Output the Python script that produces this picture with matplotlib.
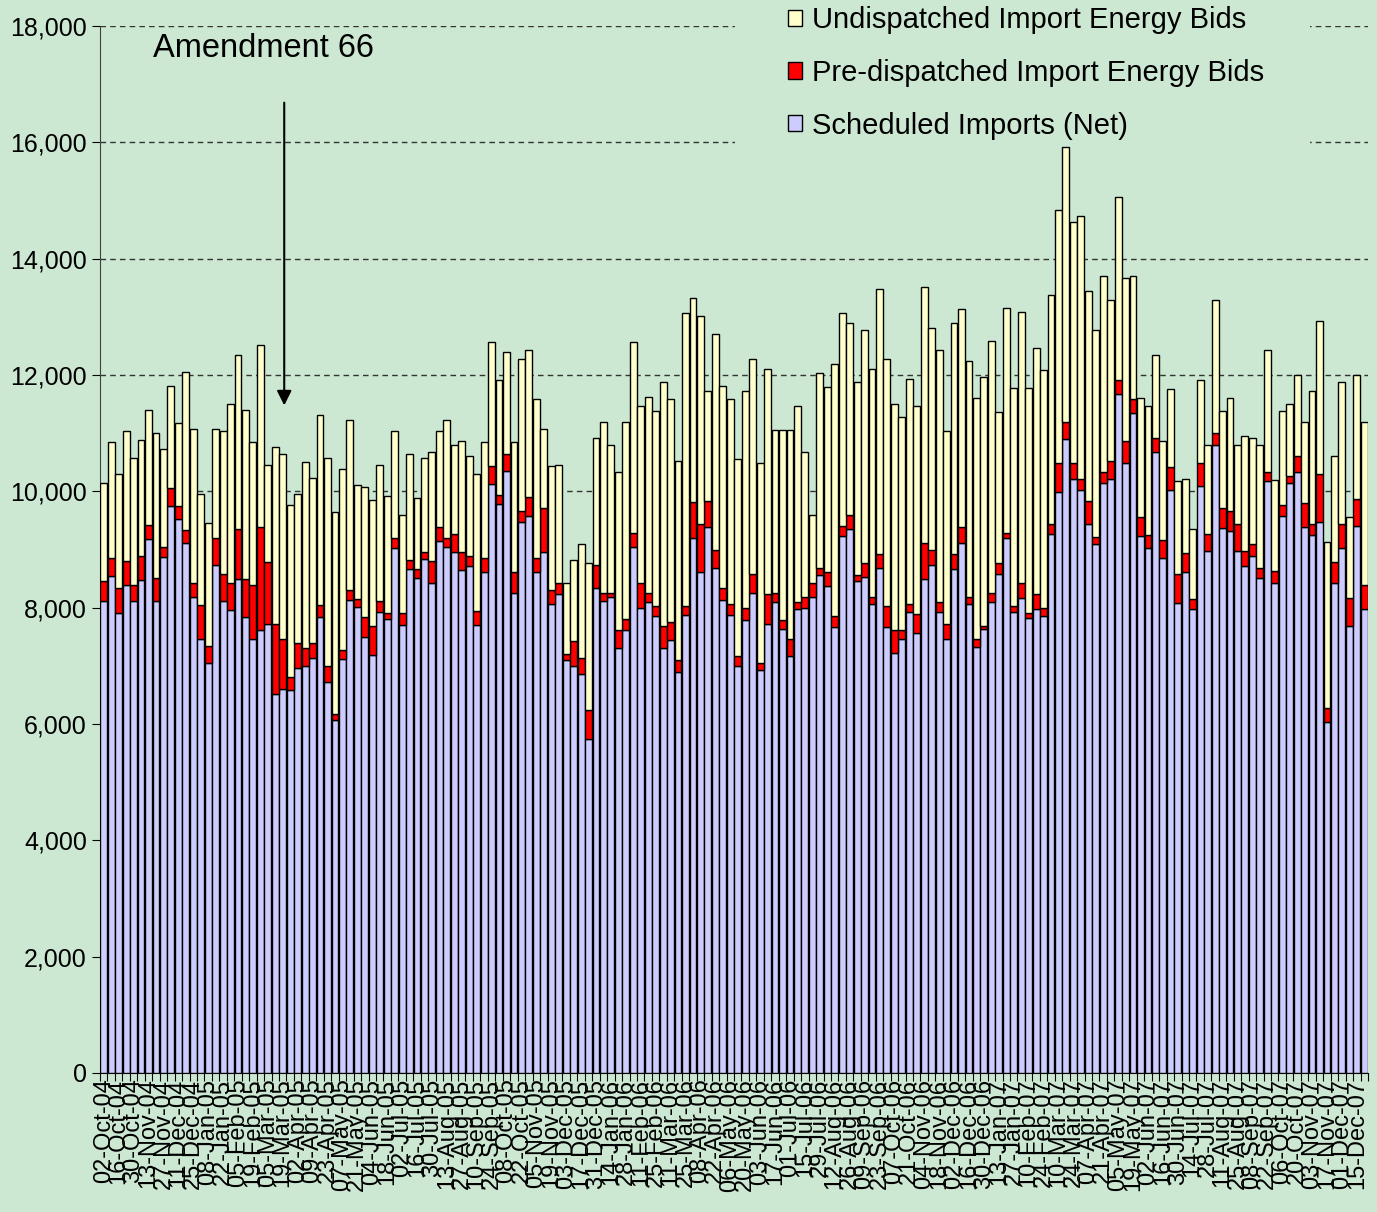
import numpy as np
import pandas as pd
import matplotlib
matplotlib.use("Agg")
import matplotlib.pyplot as plt
from matplotlib.patches import Patch, Rectangle
from matplotlib.ticker import FuncFormatter, FixedLocator

plt.rcParams['font.family'] = ['Liberation Sans', 'DejaVu Sans']

# week labels (one bar per week, the dates jump once in spring 2005)
weeks = list(pd.date_range("2004-10-02", periods=28, freq="7D")) + \
        list(pd.date_range(end="2007-12-22", periods=142, freq="7D"))
week_labels = [d.strftime("%d-%b-%y") for d in weeks]

# MW
scheduled = [8110, 8550, 7900, 8390, 8120, 8480, 9180, 8120, 8870, 9740,
             9530, 9120, 8190, 7460, 7050, 8740, 8110, 7960, 8500, 7840,
             7460, 7610, 7720, 6510, 6610, 6580, 6960, 6990, 7140, 7840,
             6720, 6070, 7110, 8140, 8010, 7500, 7190, 7930, 7800, 9020,
             7700, 8660, 8510, 8830, 8420, 9150, 9050, 8960, 8650, 8720,
             7710, 8610, 10130, 9780, 10350, 8260, 9470, 9580, 8610, 8960,
             8070, 8230, 7100, 6990, 6860, 5740, 8330, 8120, 8190, 7300,
             7620, 9050, 7990, 8100, 7850, 7300, 7440, 6900, 7870, 9190,
             8610, 9390, 8690, 8140, 7870, 6990, 7790, 8260, 6930, 7720,
             8100, 7630, 7170, 7980, 7990, 8180, 8570, 8380, 7670, 9240,
             9350, 8450, 8530, 8060, 8690, 7670, 7220, 7460, 7920, 7560,
             8490, 8730, 7920, 7460, 8660, 9120, 8060, 7330, 7630, 8100,
             8580, 9190, 7920, 8170, 7830, 7980, 7860, 9270, 9980, 10900,
             10220, 10020, 9440, 9100, 10140, 10220, 11680, 10490, 11340, 9240,
             9020, 10680, 8860, 10020, 8080, 8620, 7980, 10100, 8970, 10800,
             9370, 9320, 8970, 8710, 8890, 8510, 10170, 8430, 9580, 10140,
             10330, 9390, 9250, 9470, 6030, 8430, 9020, 7690, 9400, 7970]

# scheduled + pre-dispatched bids
with_predispatched = [8460, 8850, 8340, 8810, 8390, 8890, 9420, 8510, 9050, 10050,
                      9740, 9330, 8420, 8050, 7340, 9200, 8580, 8420, 9350, 8500,
                      8390, 9390, 8780, 7720, 7460, 6800, 7390, 7300, 7390, 8050,
                      6990, 6170, 7270, 8300, 8150, 7840, 7680, 8110, 7910, 9200,
                      7900, 8820, 8660, 8960, 8800, 9390, 9200, 9270, 8960, 8890,
                      7950, 8850, 10440, 9940, 10640, 8620, 9670, 9900, 8850, 9710,
                      8300, 8430, 7210, 7420, 7140, 6240, 8730, 8260, 8260, 7620,
                      7800, 9280, 8420, 8260, 8030, 7680, 7760, 7100, 8030, 9820,
                      9430, 9830, 9000, 8340, 8070, 7170, 7990, 8580, 7050, 8230,
                      8260, 7790, 7460, 8100, 8190, 8420, 8690, 8610, 7850, 9400,
                      9590, 8560, 8770, 8190, 8920, 8030, 7620, 7620, 8070, 7890,
                      9120, 9000, 8090, 7720, 8920, 9390, 8180, 7460, 7680, 8260,
                      8760, 9280, 8030, 8420, 7910, 8230, 7990, 9430, 10490, 11190,
                      10490, 10220, 9830, 9220, 10340, 10530, 11920, 10870, 11580, 9560,
                      9250, 10920, 9170, 10410, 8580, 8940, 8150, 10490, 9270, 11000,
                      9710, 9670, 9440, 8970, 9100, 8680, 10340, 8630, 9760, 10260,
                      10600, 9800, 9440, 10290, 6270, 8780, 9440, 8160, 9860, 8390]

# top of the stack (all three)
total = [10140, 10840, 10300, 11040, 10580, 10890, 11400, 11000, 10730, 11810,
         11180, 12050, 11080, 9960, 9450, 11080, 11040, 11500, 12350, 11400,
         10840, 12510, 10460, 10770, 10650, 9760, 9960, 10500, 10230, 11310,
         10580, 9650, 10390, 11230, 10110, 10070, 9850, 10460, 9920, 11040,
         9600, 10650, 9880, 10570, 10680, 11040, 11230, 10800, 10870, 10610,
         10290, 10840, 12560, 11920, 12400, 10840, 12270, 12430, 11580, 11070,
         10440, 10450, 8430, 8820, 9090, 8770, 10910, 11190, 10800, 10330,
         11190, 12560, 11460, 11620, 11380, 11880, 11580, 10530, 13060, 13330,
         13020, 11720, 12700, 11810, 11580, 10560, 11730, 12270, 10480, 12110,
         11050, 11050, 11050, 11460, 10680, 9590, 12040, 11800, 12190, 13060,
         12900, 11880, 12770, 12110, 13480, 12270, 11500, 11270, 11930, 11460,
         13520, 12810, 12430, 11030, 12900, 13130, 12240, 11610, 11960, 12580,
         11370, 13160, 11770, 13090, 11770, 12470, 12090, 13370, 14830, 15920,
         14630, 14730, 13440, 12780, 13710, 13290, 15060, 13660, 13710, 11610,
         11460, 12350, 10870, 11760, 10180, 10220, 9360, 11920, 10800, 13290,
         11380, 11610, 10800, 10950, 10920, 10800, 12430, 10190, 11380, 11510,
         12000, 11190, 11730, 12930, 9130, 10610, 11880, 9560, 12000, 11190]

sched = np.array(scheduled)
pre = np.array(with_predispatched) - sched
undisp = np.array(total) - np.array(with_predispatched)
x = np.arange(len(sched))

bg = '#CCE8D2'
fig = plt.figure(figsize=(13.77, 12.12), dpi=100)
fig.patch.set_facecolor(bg)
ax = fig.add_axes([100/1377, 1 - 1073/1212, 1268/1377, (1073 - 26)/1212])
ax.set_facecolor(bg)

w = 0.92
kw = dict(width=w, edgecolor='black', linewidth=1.0, zorder=3)
ax.bar(x, sched, color='#CCCCFF', **kw)
ax.bar(x, pre, bottom=sched, color='#FF0000', **kw)
ax.bar(x, undisp, bottom=sched + pre, color='#FFFFCC', **kw)

ax.set_xlim(-0.5, len(x) - 0.5)
ax.set_ylim(0, 18000)
ax.set_yticks(np.arange(0, 18001, 2000))
ax.yaxis.set_major_formatter(FuncFormatter(lambda v, p: f"{int(v):,}"))
ax.yaxis.grid(True, linestyle=(0, (4, 3)), color='#333333', linewidth=1.0)
ax.set_axisbelow(True)

ax.set_xticks(x[::2])
ax.set_xticklabels(week_labels[::2], rotation=90)
ax.xaxis.set_minor_locator(FixedLocator(np.arange(-0.5, len(x), 1)))
ax.tick_params(axis='x', which='major', length=0, labelsize=17, pad=4)
ax.tick_params(axis='x', which='minor', length=6, width=0.8, direction='out')
ax.tick_params(axis='y', labelsize=18, length=6, width=0.8, direction='out')

for s in ['top', 'right']:
    ax.spines[s].set_visible(False)
ax.spines['left'].set_color('#404040')
ax.spines['bottom'].set_color('black')

ax.text(21.35, 17620, 'Amendment 66', fontsize=23.5, ha='center', va='center')
ax.annotate('', xy=(24.2, 11430), xytext=(24.2, 16730),
            arrowprops=dict(arrowstyle='-|>', color='black', lw=1.5,
                            mutation_scale=22))

# legend area hides the gridlines but sits behind the bars
ax.add_patch(Rectangle((735/1377, 1 - 144/1212), 575/1377, 144/1212,
                       transform=fig.transFigure, facecolor=bg,
                       edgecolor='none', zorder=2, clip_on=False))

handles = [Patch(facecolor='#FFFFCC', edgecolor='black', linewidth=1.0),
           Patch(facecolor='#FF0000', edgecolor='black', linewidth=1.0),
           Patch(facecolor='#CCCCFF', edgecolor='black', linewidth=1.0)]
labels = ['Undispatched Import Energy Bids',
          'Pre-dispatched Import Energy Bids',
          'Scheduled Imports (Net)']
leg = fig.legend(handles, labels, loc='upper left',
                 bbox_to_anchor=(788/1377, (1212 - 6)/1212),
                 fontsize=21, handlelength=0.48, handleheight=0.48,
                 handletextpad=0.34, labelspacing=0.85, borderpad=0,
                 borderaxespad=0, frameon=False)

fig.savefig('out.png', dpi=100, facecolor=bg)
